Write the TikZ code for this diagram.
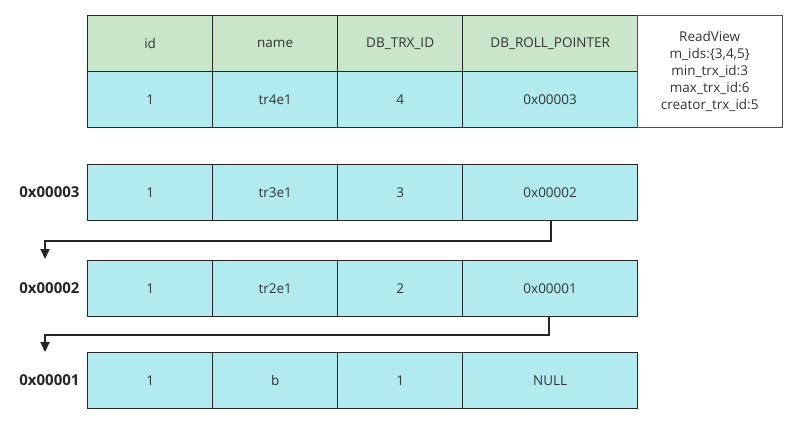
\documentclass[tikz,border=0pt]{standalone}
\usepackage{fontspec}
\setmainfont{Open Sans}
\usetikzlibrary{positioning, arrows.meta}
\definecolor{verdecito}{RGB}{201,230,203}
\definecolor{celestito}{RGB}{177,235,240}
\tikzset{>={Triangle[length=10pt,width=9pt]},
  cell/.style={draw=black!85, line width=1.3pt, anchor=north west, minimum height=56pt, inner sep=0pt, font=\fontsize{13.5}{16}\selectfont, text=black!80},
  head/.style={cell, fill=verdecito},
  rec/.style={cell, fill=celestito},
  addr/.style={anchor=east, font=\fontsize{15}{17}\selectfont\bfseries, text=black!85}}

\begin{document}
\begin{tikzpicture}[x=1pt,y=-1pt]
	\useasboundingbox (0,0) rectangle (804,424);
	% current row
	\node [head, minimum width=125pt] (hid) at (87,15) {id};
	\node [head, minimum width=125pt] (hname) at (212,15) {name};
	\node [head, minimum width=125pt] (htrx) at (337,15) {DB\_TRX\_ID};
	\node [head, minimum width=175pt] (hroll) at (462,15) {DB\_ROLL\_POINTER};
	\node [rec, minimum width=125pt] (cid) at (87,71) {1};
	\node [rec, minimum width=125pt] (cname) at (212,71) {tr4e1};
	\node [rec, minimum width=125pt] (ctrx) at (337,71) {4};
	\node [rec, minimum width=175pt] (croll) at (462,71) {0x00003};
	\node [cell, thin, draw=black!70, minimum width=145pt, minimum height=112pt, align=center, font=\fontsize{13.5}{17}\selectfont] (view) at (637,15)
		{ReadView\\m\_ids:\{3,4,5\}\\min\_trx\_id:3\\max\_trx\_id:6\\creator\_trx\_id:5};
	% undo log
	\foreach \nm/\y/\nom/\trx/\ptr in {3/164/tr3e1/3/0x00002, 2/260/tr2e1/2/0x00001, 1/352/b/1/NULL}{
		\node [rec, minimum width=125pt] (id\nm) at (87,\y) {1};
		\node [rec, minimum width=125pt] (name\nm) at (212,\y) {\nom};
		\node [rec, minimum width=125pt] (trx\nm) at (337,\y) {\trx};
		\node [rec, minimum width=175pt] (roll\nm) at (462,\y) {\ptr};
		\node [addr] (addr\nm) at (83,\y+28) {0x0000\nm};
	}
	\coordinate (top2) at (45,259);
	\coordinate (top1) at (45,352);
	\draw [line width=2pt, black!85, ->] ([xshift=1pt]roll3.south) |- ++(0,20) -| (top2);
	\draw [line width=2pt, black!85, ->] ([xshift=-1pt]roll2.south) |- ++(0,18) -| (top1);
\end{tikzpicture}
\end{document}
